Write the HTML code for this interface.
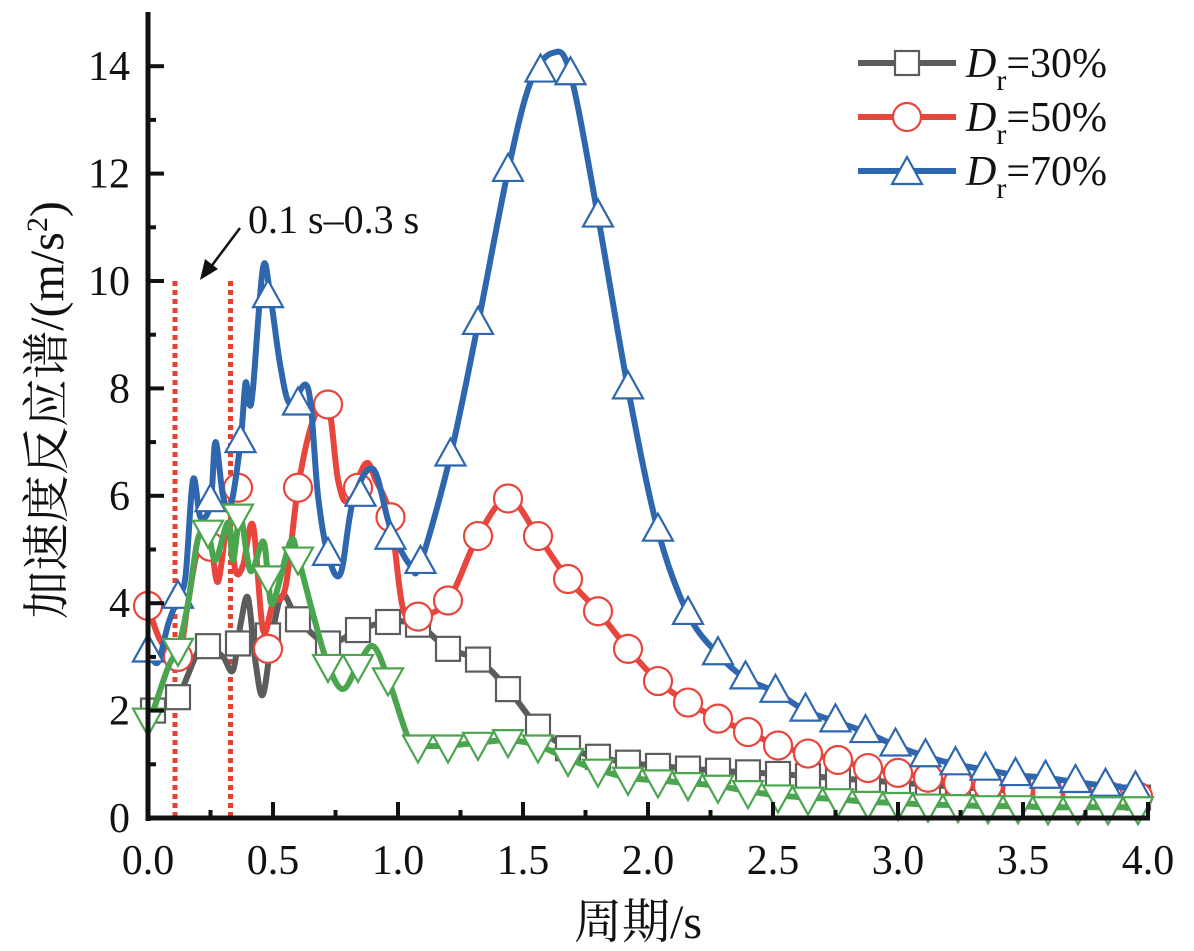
<!DOCTYPE html>
<html><head><meta charset="utf-8"><style>
html,body{margin:0;padding:0;background:#fff;}
svg{display:block;font-family:"Liberation Serif","Noto Serif CJK SC",serif;}
</style></head><body>
<svg id="chart" width="1194" height="951" viewBox="0 0 1194 951" xmlns="http://www.w3.org/2000/svg">
<g id="plot"></g>
</svg>
<script>
const xTicks=["0.0","0.5","1.0","1.5","2.0","2.5","3.0","3.5","4.0"];
const yTicks=["0","2","4","6","8","10","12","14"];
const markStep=[0.12,0.24,0.36,0.48,0.6,0.72,0.84,0.96,1.08,1.2,1.32,1.44,1.56,1.68,1.8,1.92,2.04,2.16,2.28,2.4,2.52,2.64,2.76,2.88,3.0,3.12,3.24,3.36,3.48,3.6,3.72,3.84,3.96];
// Dr=30%
const grayMarkX=[0.02].concat(markStep);
const grayMarkY=[2.0,2.25,3.2,3.25,3.4,3.7,3.25,3.5,3.65,3.6,3.15,2.95,2.4,1.7,1.3,1.14,1.03,0.97,0.92,0.88,0.85,0.82,0.78,0.74,0.7,0.66,0.62,0.58,0.54,0.5,0.47,0.44,0.4,0.38];
const grayLineX=[0,0.06,0.12,0.2,0.24,0.3,0.34,0.37,0.4,0.43,0.46,0.5,0.54,0.6,0.72,0.84,0.96,1.08];
const grayLineY=[1.9,2.05,2.25,3.1,3.2,3.0,2.75,3.6,4.1,2.9,2.3,3.5,4.15,3.7,3.25,3.5,3.65,3.6];
// Dr=50%
const redMarkX=[0,0.12,0.25,0.36,0.48,0.6,0.72,0.84,0.97,1.08,1.2,1.32,1.44,1.56,1.68,1.8,1.92,2.04,2.16,2.28,2.4,2.52,2.64,2.76,2.88,3.0,3.12,3.24,3.36,3.48,3.6,3.72,3.84,3.96];
const redMarkY=[3.95,3.0,5.05,6.15,3.15,6.15,7.7,6.15,5.6,3.75,4.05,5.25,5.95,5.25,4.45,3.85,3.15,2.55,2.15,1.85,1.6,1.35,1.2,1.08,0.93,0.84,0.75,0.65,0.6,0.52,0.48,0.45,0.42,0.4];
const redLineX=[0,0.05,0.12,0.16,0.2,0.25,0.28,0.32,0.35,0.38,0.42,0.46,0.5,0.55,0.6,0.66,0.72,0.76,0.8,0.87,0.91,0.97,1.02,1.08];
const redLineY=[3.95,3.3,3.0,4.0,5.0,5.05,4.4,5.5,4.6,4.7,5.45,3.5,4.0,4.3,6.15,7.4,7.7,6.3,5.9,6.6,6.3,5.6,3.9,3.75];
// Dr=70%
const blueMarkX=[0,0.12,0.25,0.37,0.48,0.6,0.72,0.85,0.97,1.09,1.21,1.32,1.44,1.57,1.69,1.8,1.92,2.04,2.16,2.28,2.39,2.51,2.63,2.75,2.87,2.99,3.11,3.23,3.35,3.47,3.59,3.71,3.83,3.95];
const blueMarkY=[3.1,4.1,5.9,7.0,9.7,7.7,4.9,6.0,5.2,4.75,6.75,9.2,12.05,13.9,13.85,11.2,8.0,5.35,3.8,3.05,2.6,2.35,2.0,1.8,1.6,1.35,1.15,1.0,0.9,0.8,0.75,0.67,0.6,0.55];
const blueLineX=[0,0.04,0.08,0.12,0.15,0.18,0.21,0.25,0.27,0.3,0.33,0.37,0.39,0.405,0.42,0.46,0.49,0.53,0.57,0.64,0.68,0.72,0.77,0.82,0.9,0.97,1.05,1.09,1.21,1.32,1.44,1.53,1.62,1.69];
const blueLineY=[3.1,2.9,3.6,4.1,4.5,6.3,5.6,5.85,7.0,6.0,5.8,7.0,8.1,7.7,8.0,10.25,9.7,8.4,7.7,8.0,6.0,4.9,4.55,5.9,6.5,5.4,4.7,4.75,6.75,9.2,12.05,13.7,14.25,13.85];
// fourth series (green)
const greenMarkX=[0].concat(markStep);
const greenMarkY=[1.85,3.15,5.35,5.65,4.5,4.85,2.85,2.85,2.6,1.35,1.35,1.4,1.45,1.35,1.1,0.9,0.75,0.7,0.65,0.6,0.5,0.42,0.38,0.35,0.3,0.28,0.25,0.24,0.22,0.22,0.2,0.2,0.2,0.2];
const greenLineX=[0,0.08,0.12,0.16,0.2,0.24,0.27,0.32,0.34,0.37,0.41,0.46,0.48,0.5,0.57,0.6,0.66,0.72,0.78,0.84,0.9,0.96,1.04,1.08];
const greenLineY=[1.7,2.8,3.15,4.0,5.2,5.3,4.8,5.5,4.8,5.6,4.6,5.15,4.5,4.0,5.15,4.85,3.8,2.85,2.4,2.85,3.2,2.6,1.5,1.35];
const markerLines=[0.108,0.33];

const X0=148,X1=1148,Y0=818,PY=53.7;
const sx=v=>X0+(X1-X0)*v/4;
const sy=v=>Y0-v*PY;
const NS="http://www.w3.org/2000/svg";
const plot=document.getElementById('plot');
function mk(tag,attrs,parent){const e=document.createElementNS(NS,tag);for(const k in attrs)e.setAttribute(k,attrs[k]);(parent||plot).appendChild(e);return e;}
function fullLine(lx,ly,mx,my){const lastX=lx[lx.length-1];const X=lx.slice(),Y=ly.slice();for(let i=0;i<mx.length;i++){if(mx[i]>lastX+0.01){X.push(mx[i]);Y.push(my[i]);}}return [X,Y];}
function spline(X,Y){const p=X.map((x,i)=>[sx(x),sy(Y[i])]);let d=`M${p[0][0]},${p[0][1]}`;for(let i=0;i<p.length-1;i++){const p0=p[i-1]||p[i],p1=p[i],p2=p[i+1],p3=p[i+2]||p2;const t=1/6;d+=` C${p1[0]+(p2[0]-p0[0])*t},${p1[1]+(p2[1]-p0[1])*t} ${p2[0]-(p3[0]-p1[0])*t},${p2[1]-(p3[1]-p1[1])*t} ${p2[0]},${p2[1]}`;}return d;}
function marker(type,cx,cy,color,g){
  if(type==='sq')return mk('rect',{x:cx-12,y:cy-12,width:24,height:24,fill:'#fff',stroke:color,'stroke-width':2.2},g);
  if(type==='ci')return mk('circle',{cx:cx,cy:cy,r:14,fill:'#fff',stroke:color,'stroke-width':2.2},g);
  if(type==='up')return mk('polygon',{points:`${cx},${cy-17} ${cx-15},${cy+10} ${cx+15},${cy+10}`,fill:'#fff',stroke:color,'stroke-width':2.2},g);
  return mk('polygon',{points:`${cx},${cy+17} ${cx-15},${cy-10} ${cx+15},${cy-10}`,fill:'#fff',stroke:color,'stroke-width':2.2},g);
}
markerLines.forEach((v,i)=>{const l=mk('line',{x1:sx(v),y1:sy(10),x2:sx(v),y2:Y0,stroke:'#e8402f','stroke-width':5,'stroke-dasharray':'5 4'});

});
const series=[
 {name:'series-dr30',lx:grayLineX,ly:grayLineY,mx:grayMarkX,my:grayMarkY,c:'#5c5c5c',m:'sq'},
 {name:'series-dr50',lx:redLineX,ly:redLineY,mx:redMarkX,my:redMarkY,c:'#e8453c',m:'ci'},
 {name:'series-dr70',lx:blueLineX,ly:blueLineY,mx:blueMarkX,my:blueMarkY,c:'#2e67ae',m:'up'},
 {name:'series-green',lx:greenLineX,ly:greenLineY,mx:greenMarkX,my:greenMarkY,c:'#4ba54f',m:'dn'}];
series.forEach(s=>{const g=mk('g',{});


const [X,Y]=fullLine(s.lx,s.ly,s.mx,s.my);
const p=mk('path',{d:spline(X,Y),fill:'none',stroke:s.c,'stroke-width':6,'stroke-linejoin':'round'},g);


s.mx.forEach((x,i)=>{const m=marker(s.m,sx(x),sy(s.my[i]),s.c,g);

});});
const ax=mk('g',{});


mk('line',{x1:X0,y1:12,x2:X0,y2:Y0+3,stroke:'#111','stroke-width':5},ax);
mk('line',{x1:X0-2,y1:Y0,x2:1150,y2:Y0,stroke:'#111','stroke-width':5},ax);
for(let i=0;i<=14;i++){mk('line',{x1:X0,y1:sy(i),x2:X0+(i%2?8:16),y2:sy(i),stroke:'#111','stroke-width':4},ax);}
yTicks.forEach((t,i)=>{const e=mk('text',{x:130,y:sy(i*2)+14,'text-anchor':'end','font-size':42,fill:'#111'},ax);e.textContent=t;

});
for(let i=0;i<=16;i++){mk('line',{x1:sx(i*0.25),y1:Y0,x2:sx(i*0.25),y2:Y0-(i%2?8:16),stroke:'#111','stroke-width':4},ax);}
xTicks.forEach((t,i)=>{const e=mk('text',{x:sx(i*0.5),y:874,'text-anchor':'middle','font-size':42,fill:'#111'},ax);e.textContent=t;

});
const xt=mk('text',{x:638,y:938,'text-anchor':'middle','font-size':48,fill:'#111'},ax);xt.textContent='周期/s';


const yt=mk('text',{x:0,y:0,'text-anchor':'middle','font-size':48,fill:'#111',transform:'translate(63,410) rotate(-90)'},ax);
yt.innerHTML='加速度反应谱/(m/s<tspan dy="-16" font-size="30">2</tspan><tspan dy="16">)</tspan>';


const an=mk('g',{});


const at=mk('text',{x:248,y:233,'font-size':40,fill:'#111'},an);at.textContent='0.1 s–0.3 s';
mk('line',{x1:240,y1:228,x2:210,y2:268,stroke:'#111','stroke-width':2.5},an);
mk('polygon',{points:'200,280 205,259 218,269',fill:'#111'},an);
const lg=mk('g',{});


const labels=['=30%','=50%','=70%'];
[0,1,2].forEach(i=>{const s=series[i];const y=63+i*54;const g=mk('g',{},lg);


mk('line',{x1:858,y1:y,x2:956,y2:y,stroke:s.c,'stroke-width':6},g);
marker(s.m,907,y+(s.m==='up'?3:0),s.c,g);
const t=mk('text',{x:966,y:y+14,'font-size':42,fill:'#111'},g);
t.innerHTML='<tspan font-style="italic">D</tspan><tspan dy="13" font-size="30">r</tspan><tspan dy="-13">'+labels[i]+'</tspan>';});
</script>
</body></html>
